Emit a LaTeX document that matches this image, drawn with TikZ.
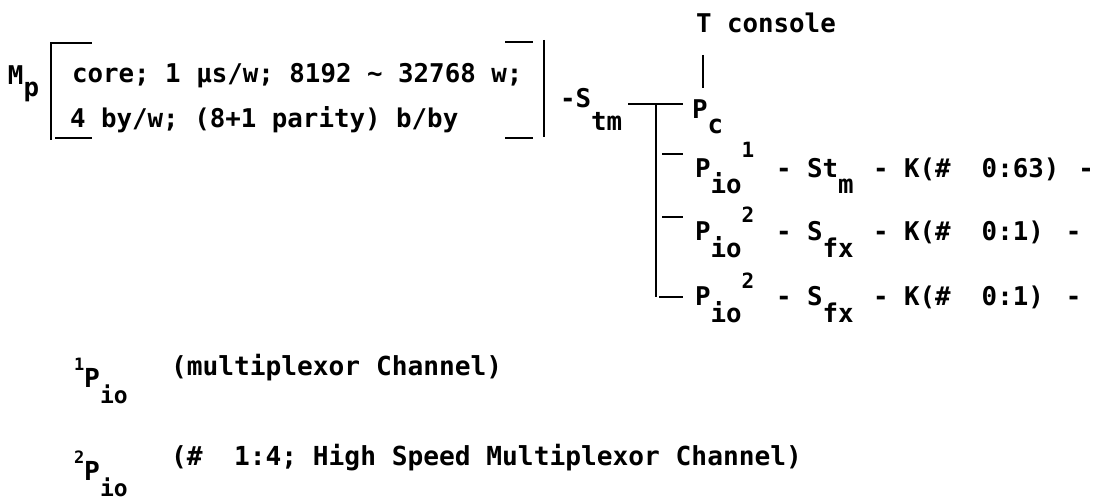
\documentclass[tikz,border=0pt]{standalone}
\usepackage{fontspec}
\setmainfont{DejaVu Sans Mono}
\newcommand\subx[2]{\raisebox{-#1pt}{#2}}
\newcommand\supx[2]{\raisebox{#1pt}{\fontsize{21}{24}\selectfont #2}}
\tikzset{
  txt/.style={anchor=base west, inner sep=0pt, outer sep=0pt, font=\bfseries\fontsize{25.8}{30}\selectfont},
  leg/.style={txt, font=\bfseries\fontsize{26.2}{30}\selectfont},
  rule/.style={line width=2.2pt},
}
\begin{document}
\begin{tikzpicture}[x=1pt,y=-1pt]
\useasboundingbox (0,0) rectangle (1107,500);
% memory
\node[txt] (Mp) at (8,85) {M\subx{12}{p}};
\node[txt] (l1) at (72,83) {core; 1 µs/w; 8192 ∼ 32768 w;};
\node[txt] (l2) at (70,128) {4 by/w; (8+1 parity) b/by};
\draw[rule] (55,43) -- (51,43) -- (51,140);
\draw[rule] (55,43) -- (92,43);
\draw[rule] (55,138) -- (92,138);
\draw[rule] (544,40) -- (544,137);
\draw[rule] (505,42) -- (533,42);
\draw[rule] (505,138) -- (533,138);
% switch
\node[txt] (stm) at (560,108) {-S\subx{22}{tm}};
\node[txt] (tc) at (696,33) {T console};
\node[txt] (pc) at (692,118) {P\subx{15}{c}};
\coordinate (tcb) at (703,55);
\coordinate (pct) at (703,88);
\draw[rule] (tcb) -- (pct);
\coordinate (hs) at (628,104);
\coordinate (he) at (683,104);
\coordinate (tj) at (656,104);
\coordinate (tb) at (656,297);
\draw[rule] (hs) -- (he);
\draw[rule] (tj) -- (tb);
\coordinate (b1a) at (662,154); \coordinate (b1b) at (683,154);
\coordinate (b2a) at (662,217); \coordinate (b2b) at (683,217);
\coordinate (b3a) at (659,297); \coordinate (b3b) at (683,297);
\draw[rule] (b1a) -- (b1b);
\draw[rule] (b2a) -- (b2b);
\draw[rule] (b3a) -- (b3b);
% rows
\node[txt] (r1p) at (695,177) {P\subx{16}{io}\supx{20}{1}};
\node[txt] (r1s) at (776,177) {- St\subx{16}{m}};
\node[txt] (r1k) at (873,177) {- K(\#\ \ 0:63)\hspace{19pt}-};
\node[txt] (r2p) at (695,240) {P\subx{17}{io}\supx{18}{2}};
\node[txt] (r2s) at (776,240) {- S\subx{17}{fx}};
\node[txt] (r2k) at (873,240) {- K(\#\ \ 0:1)\hspace{22pt}-};
\node[txt] (r3p) at (695,305) {P\subx{17}{io}\supx{17}{2}};
\node[txt] (r3s) at (776,305) {- S\subx{17}{fx}};
\node[txt] (r3k) at (873,305) {- K(\#\ \ 0:1)\hspace{22pt}-};
% legend
\node[leg] (n1) at (74,387) {\raisebox{17pt}{\fontsize{17}{20}\selectfont 1}P\subx{16}{\fontsize{23}{26}\selectfont io}};
\node[leg] (n1t) at (171,375) {(multiplexor Channel)};
\node[leg] (n2) at (74,480) {\raisebox{17pt}{\fontsize{17}{20}\selectfont 2}P\subx{16}{\fontsize{23}{26}\selectfont io}};
\node[leg] (n2t) at (171,465) {(\#\ \ 1:4; High Speed Multiplexor Channel)};
\end{tikzpicture}
\end{document}
